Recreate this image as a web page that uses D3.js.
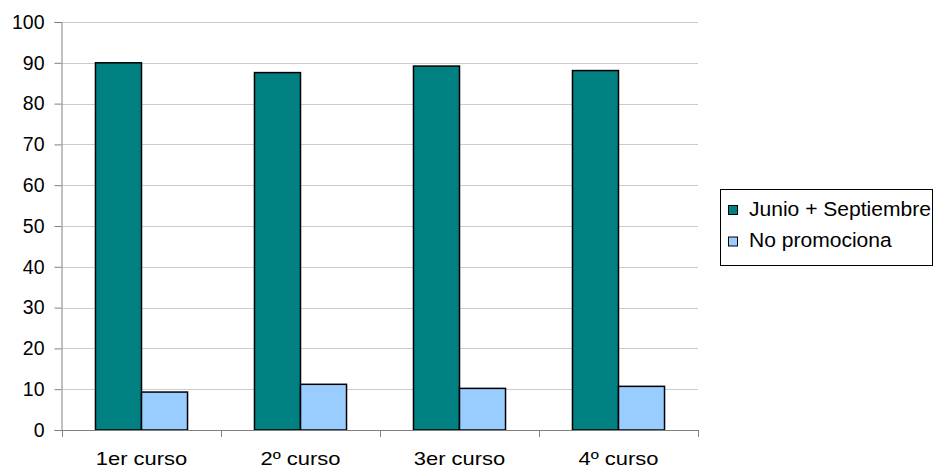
<!DOCTYPE html>
<html><head><meta charset="utf-8">
<script src="https://cdn.jsdelivr.net/npm/d3@7"></script>
<style>body{margin:0;background:#fff}svg{display:block}text{font-family:"Liberation Sans",Arial,sans-serif;fill:#000}</style>
</head><body><svg id="c" width="934" height="469"></svg>
<script>
const categories = ["1er curso", "2º curso", "3er curso", "4º curso"];
const seriesNames = ["Junio + Septiembre", "No promociona"];
const junioSeptiembre = [90.0, 87.6, 89.2, 88.1];
const noPromociona = [9.3, 11.2, 10.2, 10.7];
const yTicks = [0, 10, 20, 30, 40, 50, 60, 70, 80, 90, 100];
const colors = ["#008080", "#99CCFF"];

const svg = d3.select("#c");
const L = 62, R = 698, T = 22, B = 430;
const x = d3.scaleBand().domain(categories).range([L, R]).paddingInner(0.421).paddingOuter(0.2105);
const xs = d3.scaleBand().domain(seriesNames).range([0, x.bandwidth()]);
const y = d3.scaleLinear().domain([0, 100]).range([B, T]);

// gridlines
svg.append("g").selectAll("line").data(yTicks.filter(d => d > 0)).join("line")
  .attr("x1", L).attr("x2", R).attr("y1", d => Math.round(y(d)) + 0.5).attr("y2", d => Math.round(y(d)) + 0.5)
  .attr("stroke", "#cccccc").attr("stroke-width", 1);

// bars
const data = categories.map((c, i) => ({c, vals: [junioSeptiembre[i], noPromociona[i]]}));
const g = svg.append("g").selectAll("g").data(data).join("g").attr("transform", d => `translate(${x(d.c)},0)`);
g.selectAll("rect").data(d => d.vals.map((v, j) => ({v, s: seriesNames[j], j}))).join("rect")
  .attr("x", d => xs(d.s)).attr("width", xs.bandwidth())
  .attr("y", d => y(d.v)).attr("height", d => B - y(d.v))
  .attr("fill", d => colors[d.j]).attr("stroke", "#000").attr("stroke-width", 1.5);

// y axis
const ya = svg.append("g").attr("transform", `translate(${L - 0.5},0)`)
  .call(d3.axisLeft(y).tickValues(yTicks).tickSize(7).tickPadding(10));
ya.select(".domain").attr("stroke", "#808080");
ya.selectAll(".tick line").attr("stroke", "#808080");
ya.selectAll("text").attr("font-size", 19.5).attr("font-family", "Liberation Sans, Arial, sans-serif").attr("fill", "#000");

// x axis
const xa = svg.append("g").attr("transform", `translate(0,${B + 0.5})`)
  .call(d3.axisBottom(x).tickSize(0).tickPadding(0));
xa.select(".domain").attr("stroke", "#808080").attr("d", `M${L},0H${R}`);
xa.selectAll("text").attr("font-size", 18).attr("font-family", "Liberation Sans, Arial, sans-serif")
  .attr("fill", "#000").attr("dy", null).attr("y", 34.5).attr("transform", "scale(1.22,1)");
const step = x.step();
svg.append("g").selectAll("line").data(d3.range(categories.length + 1)).join("line")
  .attr("x1", i => Math.round(L + i * step) + 0.5).attr("x2", i => Math.round(L + i * step) + 0.5)
  .attr("y1", B).attr("y2", B + 7).attr("stroke", "#808080");

// legend
const lg = svg.append("g");
lg.append("rect").attr("x", 720.5).attr("y", 189.5).attr("width", 212).attr("height", 76)
  .attr("fill", "#fff").attr("stroke", "#000").attr("stroke-width", 1);
const li = lg.selectAll("g").data(seriesNames).join("g")
  .attr("transform", (d, i) => `translate(728,${205 + i * 31.5})`);
li.append("rect").attr("x", 0.5).attr("y", 0.5).attr("width", 9).attr("height", 9)
  .attr("fill", (d, i) => colors[i]).attr("stroke", "#000").attr("stroke-width", 1);
li.append("text").attr("transform", "translate(21,10.5) scale(1.08,1)").attr("font-size", 19.5).text(d => d);
</script></body></html>
